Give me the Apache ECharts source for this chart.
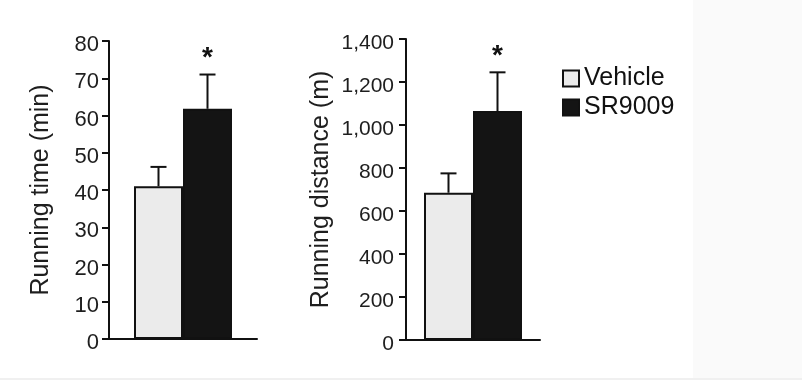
<!DOCTYPE html>
<html>
<head>
<meta charset="utf-8">
<script src="https://cdn.jsdelivr.net/npm/echarts@6/dist/echarts.min.js"></script>
<style>html,body{margin:0;padding:0;background:#fff;}#c{width:802px;height:380px;}</style>
</head>
<body>
<div id="c"></div>
<script>
// ---- data ----
const groups = ['Vehicle', 'SR9009'];
const timeMeans = [41, 61.8];
const timeErrs = [5.2, 9.2];
const distMeans = [685, 1065];
const distErrs = [90, 180];
const significant = [false, true];
const timeTicks = [0, 10, 20, 30, 40, 50, 60, 70, 80];
const distTicks = [0, 200, 400, 600, 800, 1000, 1200, 1400];

const fillColors = ['#ebebeb', '#141414'];
const font = '"Liberation Sans", Arial, sans-serif';
const textColor = '#1e1e1e';
const BAR_W = 49;
const LW = 2;

function yAxis(gridIndex, ticks, name, nameGap, fontSize, margin, fmt) {
  return {
    type: 'value', gridIndex: gridIndex,
    min: ticks[0], max: ticks[ticks.length - 1], interval: ticks[1] - ticks[0],
    name: name, nameLocation: 'middle', nameGap: nameGap,
    nameTextStyle: { fontFamily: font, fontSize: 25, color: textColor },
    axisLine: { show: true, lineStyle: { color: '#111', width: LW } },
    axisTick: { show: true, length: 7, lineStyle: { color: '#111', width: LW } },
    axisLabel: { margin: margin, fontFamily: font, fontSize: fontSize, color: textColor,
                 verticalAlign: 'top', lineHeight: 8, formatter: fmt },
    splitLine: { show: false }
  };
}
function xAxis(gridIndex) {
  return {
    type: 'category', gridIndex: gridIndex, data: [''],
    axisLine: { show: true, lineStyle: { color: '#111', width: LW } },
    axisTick: { show: false }, axisLabel: { show: false }
  };
}
function barSeries(gi, idx, means) {
  return {
    type: 'bar', name: groups[idx], xAxisIndex: gi, yAxisIndex: gi,
    data: [means[idx]], barWidth: BAR_W, barGap: '0%',
    itemStyle: { color: fillColors[idx], borderColor: '#111', borderWidth: LW },
    z: 2
  };
}
function errSeries(gi, idx, means, errs) {
  const offset = (idx === 0 ? -1 : 1) * BAR_W / 2;
  return {
    type: 'custom', xAxisIndex: gi, yAxisIndex: gi, z: 1,
    data: [[0, means[idx], errs[idx], significant[idx] ? 1 : 0]],
    renderItem: function (params, api) {
      const base = api.coord([api.value(0), api.value(1)]);
      const top = api.coord([api.value(0), api.value(1) + api.value(2)]);
      const cx = base[0] + offset;
      const children = [
        { type: 'line', shape: { x1: cx, y1: base[1], x2: cx, y2: top[1] }, style: { stroke: '#111', lineWidth: LW } },
        { type: 'line', shape: { x1: cx - 8, y1: top[1], x2: cx + 8, y2: top[1] }, style: { stroke: '#111', lineWidth: LW } }
      ];
      if (api.value(3)) {
        children.push({ type: 'text', style: { text: '*', x: cx, y: top[1] - 2, textAlign: 'center', textVerticalAlign: 'bottom', font: 'bold 28px ' + font, fill: '#111' } });
      }
      return { type: 'group', children: children };
    }
  };
}

const chart = echarts.init(document.getElementById('c'));
chart.setOption({
  animation: false,
  backgroundColor: '#fff',
  graphic: [
    { type: 'rect', left: 693, top: 0, shape: { width: 109, height: 380 }, style: { fill: '#fafafa' }, z: -10 },
    { type: 'rect', left: 0, top: 378, shape: { width: 802, height: 2 }, style: { fill: '#f0f0f0' }, z: -10 }
  ],
  legend: {
    data: groups, orient: 'vertical', left: 557, top: 61,
    itemWidth: 16, itemHeight: 16, itemGap: 4, icon: 'rect',
    textStyle: { fontFamily: font, fontSize: 25, color: '#111' }
  },
  grid: [
    { left: 109, top: 41, width: 148, height: 298 },
    { left: 406, top: 39, width: 134, height: 301 }
  ],
  xAxis: [xAxis(0), xAxis(1)],
  yAxis: [
    yAxis(0, timeTicks, 'Running time (min)', 55, 22, 10, v => String(v)),
    yAxis(1, distTicks, 'Running distance (m)', 72, 21, 12, v => v.toLocaleString('en-US'))
  ],
  series: [
    barSeries(0, 0, timeMeans), barSeries(0, 1, timeMeans),
    errSeries(0, 0, timeMeans, timeErrs), errSeries(0, 1, timeMeans, timeErrs),
    barSeries(1, 0, distMeans), barSeries(1, 1, distMeans),
    errSeries(1, 0, distMeans, distErrs), errSeries(1, 1, distMeans, distErrs)
  ]
});
</script>
</body>
</html>
